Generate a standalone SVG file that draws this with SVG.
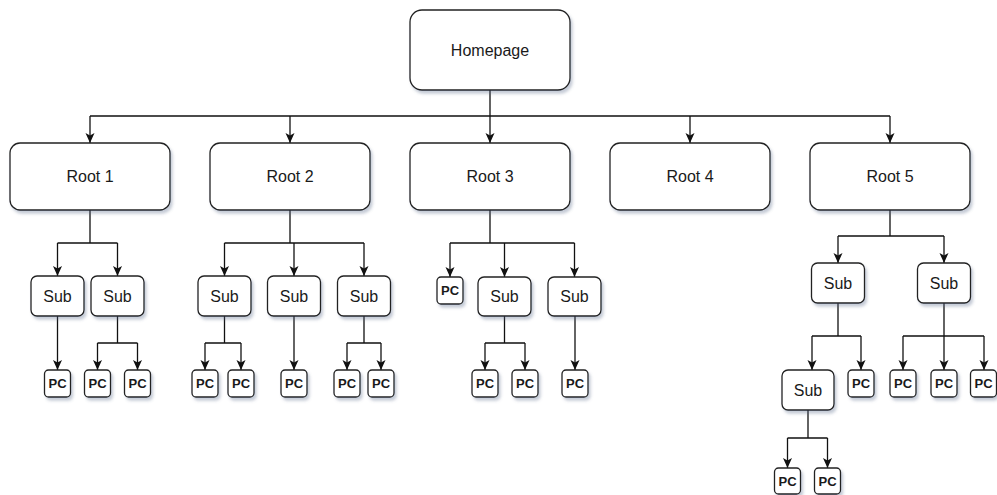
<svg xmlns="http://www.w3.org/2000/svg" width="997" height="495" viewBox="0 0 997 495">
  <defs>
    <filter id="shadow" x="-20%" y="-20%" width="150%" height="160%">
      <feDropShadow dx="2" dy="3" stdDeviation="1.6" flood-color="#5a6a8a" flood-opacity="0.35"/>
    </filter>
    <marker id="arrow" markerUnits="userSpaceOnUse" markerWidth="11" markerHeight="11" refX="10" refY="5" orient="auto">
      <path d="M0,0.5 L10,5 L0,9.5 L2.5,5 z" fill="#111"/>
    </marker>
  </defs>
  <style>
    .box { fill: #fff; stroke: #222; stroke-width: 1.3; filter: url(#shadow); }
    .lbl { font-family: "Liberation Sans", Arial, sans-serif; font-size: 16px; fill: #1a1a1a; text-anchor: middle; dominant-baseline: central; }
    .pc { font-family: "Liberation Sans", Arial, sans-serif; font-size: 13px; font-weight: bold; fill: #1a1a1a; text-anchor: middle; dominant-baseline: central; }
    .wire { fill: none; stroke: #111; stroke-width: 1.3; }
    .arr { marker-end: url(#arrow); }
  </style>
  <rect width="997" height="495" fill="#fff"/>

  <!-- connectors -->
  <g id="connectors">
    <!-- homepage to roots -->
    <path class="wire" d="M490,90 V116 M90,116 H890"/>
    <path class="wire arr" d="M90,116 V143"/>
    <path class="wire arr" d="M290,116 V143"/>
    <path class="wire arr" d="M490,116 V143"/>
    <path class="wire arr" d="M690,116 V143"/>
    <path class="wire arr" d="M890,116 V143"/>

    <!-- root 1 -->
    <path class="wire" d="M90,210 V243 M57.5,243 H117.5"/>
    <path class="wire arr" d="M57.5,243 V276"/>
    <path class="wire arr" d="M117.5,243 V276"/>
    <path class="wire arr" d="M57.5,316 V370"/>
    <path class="wire" d="M117.5,316 V343 M97.5,343 H137.5"/>
    <path class="wire arr" d="M97.5,343 V370"/>
    <path class="wire arr" d="M137.5,343 V370"/>

    <!-- root 2 -->
    <path class="wire" d="M290,210 V243 M224.5,243 H364"/>
    <path class="wire arr" d="M224.5,243 V276"/>
    <path class="wire arr" d="M294,243 V276"/>
    <path class="wire arr" d="M364,243 V276"/>
    <path class="wire" d="M224.5,316 V343 M205,343 H241"/>
    <path class="wire arr" d="M205,343 V370"/>
    <path class="wire arr" d="M241,343 V370"/>
    <path class="wire arr" d="M294,316 V370"/>
    <path class="wire" d="M364,316 V343 M347,343 H381"/>
    <path class="wire arr" d="M347,343 V370"/>
    <path class="wire arr" d="M381,343 V370"/>

    <!-- root 3 -->
    <path class="wire" d="M490,210 V243 M450,243 H574.5"/>
    <path class="wire arr" d="M450,243 V277"/>
    <path class="wire arr" d="M504.5,243 V277"/>
    <path class="wire arr" d="M574.5,243 V277"/>
    <path class="wire" d="M504.5,316 V343 M485,343 H525"/>
    <path class="wire arr" d="M485,343 V370"/>
    <path class="wire arr" d="M525,343 V370"/>
    <path class="wire arr" d="M575,316 V370"/>

    <!-- root 5 -->
    <path class="wire" d="M890,210 V236 M838,236 H944"/>
    <path class="wire arr" d="M838,236 V263"/>
    <path class="wire arr" d="M944,236 V263"/>
    <path class="wire" d="M838,303 V336 M812,336 H861"/>
    <path class="wire arr" d="M812,336 V370"/>
    <path class="wire arr" d="M861,336 V370"/>
    <path class="wire" d="M944,303 V336 M903,336 H984"/>
    <path class="wire arr" d="M903,336 V370"/>
    <path class="wire arr" d="M944,336 V370"/>
    <path class="wire arr" d="M984,336 V370"/>
    <path class="wire" d="M808,410 V438 M787.5,438 H827.5"/>
    <path class="wire arr" d="M787.5,438 V468"/>
    <path class="wire arr" d="M827.5,438 V468"/>
  </g>

  <!-- homepage -->
  <g id="homepage">
    <rect class="box" x="410" y="10" width="160" height="80" rx="12"/>
    <text class="lbl" x="490" y="50">Homepage</text>
  </g>

  <!-- roots -->
  <g id="root1"><rect class="box" x="10" y="143" width="160" height="67" rx="10"/><text class="lbl" x="90" y="176.5">Root 1</text></g>
  <g id="root2"><rect class="box" x="210" y="143" width="160" height="67" rx="10"/><text class="lbl" x="290" y="176.5">Root 2</text></g>
  <g id="root3"><rect class="box" x="410" y="143" width="160" height="67" rx="10"/><text class="lbl" x="490" y="176.5">Root 3</text></g>
  <g id="root4"><rect class="box" x="610" y="143" width="160" height="67" rx="10"/><text class="lbl" x="690" y="176.5">Root 4</text></g>
  <g id="root5"><rect class="box" x="810" y="143" width="160" height="67" rx="10"/><text class="lbl" x="890" y="176.5">Root 5</text></g>

  <!-- root 1 branch -->
  <g id="r1-sub1"><rect class="box" x="31" y="276" width="53" height="40" rx="6"/><text class="lbl" x="57.5" y="296">Sub</text></g>
  <g id="r1-sub2"><rect class="box" x="91" y="276" width="53" height="40" rx="6"/><text class="lbl" x="117.5" y="296">Sub</text></g>
  <g id="r1-pc1"><rect class="box" x="44.5" y="370" width="26" height="27" rx="4"/><text class="pc" x="57.5" y="383.5">PC</text></g>
  <g id="r1-pc2"><rect class="box" x="84.5" y="370" width="26" height="27" rx="4"/><text class="pc" x="97.5" y="383.5">PC</text></g>
  <g id="r1-pc3"><rect class="box" x="124.5" y="370" width="26" height="27" rx="4"/><text class="pc" x="137.5" y="383.5">PC</text></g>

  <!-- root 2 branch -->
  <g id="r2-sub1"><rect class="box" x="198" y="276" width="53" height="40" rx="6"/><text class="lbl" x="224.5" y="296">Sub</text></g>
  <g id="r2-sub2"><rect class="box" x="267.5" y="276" width="53" height="40" rx="6"/><text class="lbl" x="294" y="296">Sub</text></g>
  <g id="r2-sub3"><rect class="box" x="337.5" y="276" width="53" height="40" rx="6"/><text class="lbl" x="364" y="296">Sub</text></g>
  <g id="r2-pc1"><rect class="box" x="192" y="370" width="26" height="27" rx="4"/><text class="pc" x="205" y="383.5">PC</text></g>
  <g id="r2-pc2"><rect class="box" x="228" y="370" width="26" height="27" rx="4"/><text class="pc" x="241" y="383.5">PC</text></g>
  <g id="r2-pc3"><rect class="box" x="281" y="370" width="26" height="27" rx="4"/><text class="pc" x="294" y="383.5">PC</text></g>
  <g id="r2-pc4"><rect class="box" x="334" y="370" width="26" height="27" rx="4"/><text class="pc" x="347" y="383.5">PC</text></g>
  <g id="r2-pc5"><rect class="box" x="368" y="370" width="26" height="27" rx="4"/><text class="pc" x="381" y="383.5">PC</text></g>

  <!-- root 3 branch -->
  <g id="r3-pc0"><rect class="box" x="437" y="277" width="26" height="27" rx="4"/><text class="pc" x="450" y="290.5">PC</text></g>
  <g id="r3-sub1"><rect class="box" x="478" y="277" width="53" height="39" rx="6"/><text class="lbl" x="504.5" y="296.5">Sub</text></g>
  <g id="r3-sub2"><rect class="box" x="548" y="277" width="53" height="39" rx="6"/><text class="lbl" x="574.5" y="296.5">Sub</text></g>
  <g id="r3-pc1"><rect class="box" x="472" y="370" width="26" height="27" rx="4"/><text class="pc" x="485" y="383.5">PC</text></g>
  <g id="r3-pc2"><rect class="box" x="512" y="370" width="26" height="27" rx="4"/><text class="pc" x="525" y="383.5">PC</text></g>
  <g id="r3-pc3"><rect class="box" x="562" y="370" width="26" height="27" rx="4"/><text class="pc" x="575" y="383.5">PC</text></g>

  <!-- root 5 branch -->
  <g id="r5-sub1"><rect class="box" x="811.5" y="263" width="53" height="40" rx="6"/><text class="lbl" x="838" y="283">Sub</text></g>
  <g id="r5-sub2"><rect class="box" x="917.5" y="263" width="53" height="40" rx="6"/><text class="lbl" x="944" y="283">Sub</text></g>
  <g id="r5-sub3"><rect class="box" x="782" y="370" width="52" height="40" rx="6"/><text class="lbl" x="808" y="390">Sub</text></g>
  <g id="r5-pc1"><rect class="box" x="848" y="370" width="26" height="27" rx="4"/><text class="pc" x="861" y="383.5">PC</text></g>
  <g id="r5-pc2"><rect class="box" x="890" y="370" width="26" height="27" rx="4"/><text class="pc" x="903" y="383.5">PC</text></g>
  <g id="r5-pc3"><rect class="box" x="931" y="370" width="26" height="27" rx="4"/><text class="pc" x="944" y="383.5">PC</text></g>
  <g id="r5-pc4"><rect class="box" x="970.5" y="370" width="26" height="27" rx="4"/><text class="pc" x="983.5" y="383.5">PC</text></g>
  <g id="r5-pc5"><rect class="box" x="774.5" y="468" width="26" height="26" rx="4"/><text class="pc" x="787.5" y="481">PC</text></g>
  <g id="r5-pc6"><rect class="box" x="814.5" y="468" width="26" height="26" rx="4"/><text class="pc" x="827.5" y="481">PC</text></g>
</svg>
